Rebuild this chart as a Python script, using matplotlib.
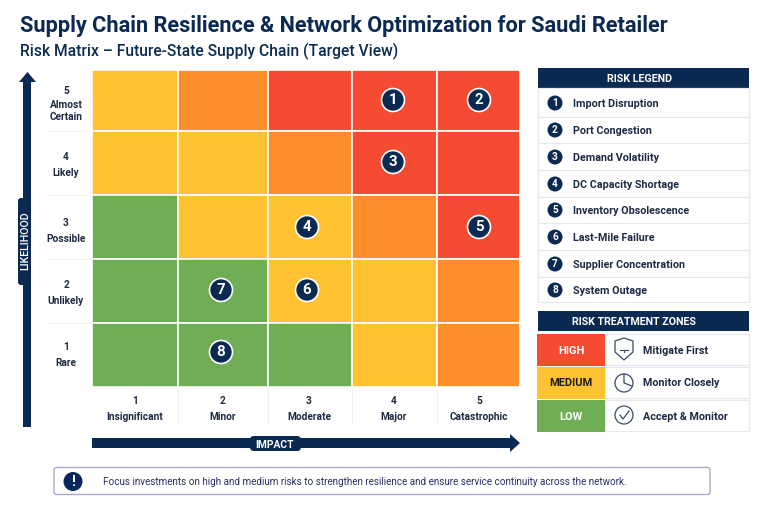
import matplotlib
matplotlib.use("Agg")
import matplotlib.pyplot as plt
from matplotlib.patches import Rectangle, Circle, FancyBboxPatch, Polygon

# Data
title = "Supply Chain Resilience & Network Optimization for Saudi Retailer"
subtitle = "Risk Matrix – Future-State Supply Chain (Target View)"
impact_labels = ["1\nInsignificant", "2\nMinor", "3\nModerate", "4\nMajor", "5\nCatastrophic"]
likelihood_labels = ["5\nAlmost\nCertain", "4\nLikely", "3\nPossible", "2\nUnlikely", "1\nRare"]
# rows from likelihood 5 down to 1, columns impact 1 to 5
matrix = [
    ["M", "O", "H", "H", "H"],
    ["M", "M", "O", "H", "H"],
    ["L", "M", "M", "O", "H"],
    ["L", "L", "M", "M", "O"],
    ["L", "L", "L", "M", "O"],
]
risk_names = ["Import Disruption", "Port Congestion", "Demand Volatility", "DC Capacity Shortage",
              "Inventory Obsolescence", "Last-Mile Failure", "Supplier Concentration", "System Outage"]
risk_impact = [4, 5, 4, 3, 5, 3, 2, 2]
risk_likelihood = [5, 5, 4, 3, 3, 2, 2, 1]
zone_names = ["HIGH", "MEDIUM", "LOW"]
zone_actions = ["Mitigate First", "Monitor Closely", "Accept & Monitor"]
note = "Focus investments on high and medium risks to strengthen resilience and ensure service continuity across the network."

# Layout in pixels
NAVY = "#0B2A52"
DARK = "#1E2A44"
LINE = "#E4E8EE"
COLORS = {"H": "#F44B32", "O": "#FD8F2A", "M": "#FFC233", "L": "#6FAE55"}
x_edges = [92, 178, 268, 352, 437, 520]
y_edges = [70, 131, 195, 259, 323, 387]
marker_x = [135, 221, 307, 393, 479]
marker_y = [352, 290, 227, 162, 100]
FONT = "Roboto"

fig = plt.figure(figsize=(7.68, 5.12), dpi=100)
ax = fig.add_axes([0, 0, 1, 1])
ax.set_xlim(0, 768)
ax.set_ylim(512, 0)
ax.axis("off")


def px(size):
    return size * 0.72


def label(x, y, s, size, color=DARK, weight="bold", ha="center", **kw):
    ax.text(x, y, s, fontsize=px(size), color=color, fontweight=weight, ha=ha, va="center",
            family=FONT, **kw)


def rect(x0, y0, x1, y1, fc, ec="none", lw=0, z=1):
    ax.add_patch(Rectangle((x0, y0), x1 - x0, y1 - y0, fc=fc, ec=ec, lw=lw, zorder=z))


def badge(x, y, r, s, size, edge=None):
    ax.add_patch(Circle((x, y), r, fc=NAVY, ec=edge or NAVY, lw=1.2 if edge else 0, zorder=4))
    ax.text(x, y + 0.3, s, fontsize=px(size), color="white", fontweight="bold", ha="center",
            va="center", family=FONT, zorder=5)


# Titles
ax.text(20, 26, title, fontsize=px(21.8), color=NAVY, fontweight="bold", ha="left", va="center", family=FONT)
ax.text(20, 51, subtitle, fontsize=px(15.6), color=NAVY, fontweight="medium", ha="left", va="center", family=FONT)

# Matrix
for r, row in enumerate(matrix):
    for c, level in enumerate(row):
        rect(x_edges[c], y_edges[r], x_edges[c + 1], y_edges[r + 1], COLORS[level], ec="white", lw=1.2)

# Risk markers
for i in range(len(risk_names)):
    badge(marker_x[risk_impact[i] - 1], marker_y[risk_likelihood[i] - 1], 11.5, str(i + 1), 15, edge="white")

# Likelihood labels
label_rows = [[90, 105, 117], [157, 172], [222, 238], [285, 301], [346, 362]]
for i, s in enumerate(likelihood_labels):
    for p, y in zip(s.split("\n"), label_rows[i]):
        label(66, y + 0.5, p, 10.1)
    if i < 4:
        ax.plot([46, 90], [y_edges[i + 1]] * 2, color="#F1F3F6", lw=0.8)

# Impact labels
impact_x = [135, 223, 309, 394, 479]
for i, s in enumerate(impact_labels):
    parts = s.split("\n")
    label(impact_x[i], 401.5, parts[0], 10.1)
    label(impact_x[i], 416.5, parts[1], 10.1)
    if i > 0:
        ax.plot([x_edges[i]] * 2, [390, 424], color="#EDEFF3", lw=0.8)

# Axis arrows
ax.add_patch(Polygon([(23, 427), (23, 82), (19, 82), (27.5, 72), (36, 82), (31, 82), (31, 427)], fc=NAVY, ec="none"))
ax.add_patch(FancyBboxPatch((20, 200), 9, 83, boxstyle="round,pad=2,rounding_size=3", fc=NAVY, ec="none", zorder=2))
label(25, 241, "LIKELIHOOD", 10.6, color="white", weight="medium", rotation=90, zorder=3)
ax.add_patch(Polygon([(92, 438), (510, 438), (510, 434), (520, 443), (510, 452), (510, 448), (92, 448)], fc=NAVY, ec="none"))
ax.add_patch(FancyBboxPatch((252, 438), 47, 11, boxstyle="round,pad=2,rounding_size=4", fc=NAVY, ec="none", zorder=2))
label(275, 444.5, "IMPACT", 10.2, color="white", zorder=3)

# Risk legend
rect(538, 68, 749, 88, NAVY)
label(640, 79.5, "RISK LEGEND", 10.7, color="white")
row_lines = [116.5, 143, 170, 197, 223, 250, 277]
row_text = [103, 130, 157, 184, 210, 237, 264, 290]
ax.add_patch(Rectangle((538, 88), 211, 214, fc="white", ec=LINE, lw=0.9))
for y in row_lines:
    ax.plot([538, 749], [y, y], color=LINE, lw=0.9)
for i, name in enumerate(risk_names):
    badge(555, row_text[i], 7.5, str(i + 1), 10)
    label(573, row_text[i] + 0.7, name, 10.8, ha="left")

# Treatment zones
rect(538, 311, 749, 331, NAVY)
label(634, 322, "RISK TREATMENT ZONES", 10.6, color="white")
zone_tops = [334, 367, 400]
zone_colors = [COLORS["H"], COLORS["M"], COLORS["L"]]
zone_text = ["white", "#1A1A1A", "white"]
for i, name in enumerate(zone_names):
    y0 = zone_tops[i]
    ax.add_patch(Rectangle((605, y0), 144, 31, fc="white", ec=LINE, lw=0.9))
    rect(537, y0 - 0.5, 605, y0 + 31.5, zone_colors[i], z=2)
    label(571, y0 + 16.5, name, 11, color=zone_text[i], zorder=3)
    label(643, y0 + 16.5, zone_actions[i], 10.7, ha="left")

# Icons for the treatment zones
ICON = "#3A4A66"
ax.add_patch(Polygon([(615, 341), (624, 338), (633, 341), (633, 352), (624, 360), (615, 352)], closed=True, fc="none", ec=ICON, lw=0.9))
ax.plot([620, 628], [350, 350], color=ICON, lw=0.8)
ax.plot([624, 624], [350, 352], color=ICON, lw=0.8)
ax.add_patch(Circle((624, 383), 9, fc="none", ec=ICON, lw=0.9))
ax.plot([624, 624, 632], [374, 383, 386], color=ICON, lw=0.9)
ax.add_patch(Circle((624, 415), 9, fc="none", ec=ICON, lw=0.9))
ax.plot([620, 623, 629], [415, 419, 411], color=ICON, lw=0.9)

# Note banner
ax.add_patch(FancyBboxPatch((54, 467.5), 656, 27, boxstyle="round,pad=0,rounding_size=2.5", fc="white", ec="#A9ABD0", lw=1))
ax.add_patch(Circle((73, 481.5), 9.5, fc="#0B2560", ec="none", zorder=3))
ax.text(73, 481.5, "!", fontsize=px(15), color="white", fontweight="bold", ha="center", va="center", family=FONT, zorder=4)
label(103, 482, note, 9.9, color="#2B2F66", weight="normal", ha="left")

fig.savefig("out.png", dpi=100)
